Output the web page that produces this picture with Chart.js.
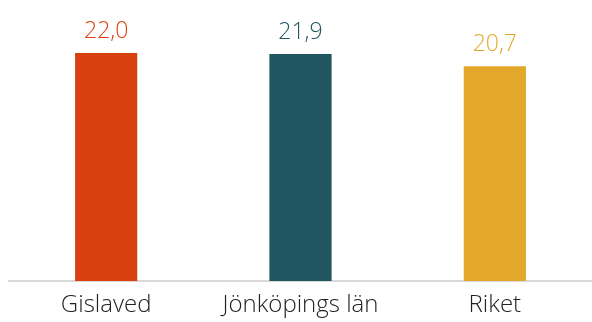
<!DOCTYPE html>
<html>
<head>
<meta charset="utf-8">
<script src="https://cdn.jsdelivr.net/npm/chart.js@4"></script>
<style>
  html, body { margin: 0; padding: 0; background: #fff; }
  #wrap { width: 592px; height: 322px; }
</style>
</head>
<body>
<div id="wrap"><canvas id="barChart" width="592" height="322"></canvas></div>
<script>
const categories = ['Gislaved', 'Jönköpings län', 'Riket'];
const values = [22.0, 21.9, 20.7];
const barColors = ['#D9400F', '#1F5660', '#E3A82A'];

const valueLabels = {
    id: 'valueLabels',
    afterDatasetsDraw(chart) {
        const ctx = chart.ctx;
        const meta = chart.getDatasetMeta(0);
        ctx.save();
        ctx.font = '300 23px "Open Sans", sans-serif';
        ctx.textAlign = 'center';
        ctx.textBaseline = 'bottom';
        meta.data.forEach((bar, i) => {
            ctx.fillStyle = barColors[i];
            ctx.fillText(values[i].toFixed(1).replace('.', ','), bar.x, bar.y - 10);
        });
        ctx.restore();
    }
};

new Chart(document.getElementById('barChart').getContext('2d'), {
    type: 'bar',
    data: {
        labels: categories,
        datasets: [{
            data: values,
            backgroundColor: barColors,
            barPercentage: 0.32,
            categoryPercentage: 1
        }]
    },
    options: {
        responsive: false,
        animation: false,
        layout: { padding: { left: 9, right: 0, top: 0, bottom: 0 } },
        plugins: {
            legend: { display: false },
            tooltip: { enabled: false }
        },
        scales: {
            x: {
                grid: { display: false },
                border: { display: true, color: '#D9D9D9', width: 2 },
                ticks: {
                    color: '#222',
                    padding: 4.5,
                    font: { family: '"Open Sans", sans-serif', size: 24, weight: '300', lineHeight: 1.0 }
                }
            },
            y: {
                display: false,
                min: 0,
                max: 27.1
            }
        }
    },
    plugins: [valueLabels]
});
</script>
</body>
</html>
